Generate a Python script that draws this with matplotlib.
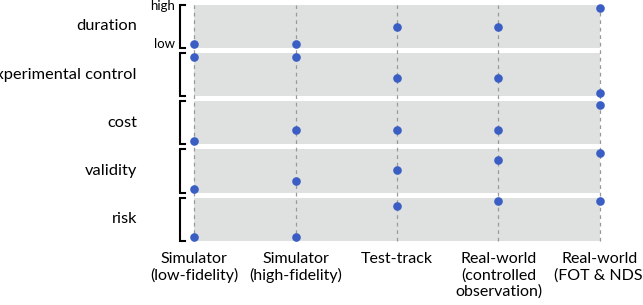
import matplotlib
matplotlib.use('Agg')
from matplotlib import pyplot as plt
from matplotlib.patches import Rectangle

# Data
criteria = ['duration', 'experimental control', 'cost', 'validity', 'risk']
settings_labels = ['Simulator\n(low-fidelity)', 'Simulator\n(high-fidelity)', 'Test-track',
                   'Real-world\n(controlled\nobservation)', 'Real-world\n(FOT & NDS)']
duration = [0, 0, 0.48, 0.48, 1]
experimental_control = [1, 1, 0.41, 0.41, 0]
cost = [0, 0.29, 0.29, 0.29, 1]
validity = [0, 0.22, 0.52, 0.8, 1]
risk = [0, 0, 0.88, 1, 1]
rows = [duration, experimental_control, cost, validity, risk]

plt.rcParams['font.family'] = ['Lato', 'DejaVu Sans']

fig = plt.figure(figsize=(6.43, 3.05), dpi=100)
ax = fig.add_axes([0, 0, 1, 1])
ax.set_xlim(-1.916, 4.425)
ax.set_ylim(-7.24, 1.23)
ax.axis('off')

period = 1.34
band_color = '#dfe1e1'
dot_color = '#3a5ec4'
xs = range(len(settings_labels))

for k, (name, vals) in enumerate(zip(criteria, rows)):
    base = -k * period
    ax.add_patch(Rectangle((0, base - 0.1), 4, 1.2, facecolor=band_color,
                           edgecolor='none', zorder=1))
    # bracket
    ax.plot([-0.092, -0.141, -0.141, -0.092],
            [base + 1.1, base + 1.1, base - 0.1, base - 0.1],
            color='black', lw=1.5, solid_joinstyle='miter', zorder=2)
    ax.text(-0.565, base + 0.5, name, ha='right', va='center', fontsize=11.8)

top = 1.1
bottom = -(len(criteria) - 1) * period - 0.1
for x in xs:
    ax.plot([x, x], [bottom, top], color='#999999', lw=0.9,
            linestyle=(0, (3, 3)), zorder=2)

for k, vals in enumerate(rows):
    base = -k * period
    ax.plot(list(xs), [base + v for v in vals], 'o', color=dot_color,
            markersize=6.2, markeredgewidth=0, zorder=3, clip_on=False)

ax.text(-0.19, 1.07, 'high', ha='right', va='center', fontsize=9.5)
ax.text(-0.19, 0.0, 'low', ha='right', va='center', fontsize=9.5)

for x, lab in zip(xs, settings_labels):
    ax.text(x, -5.76, lab, ha='center', va='top', fontsize=11.5,
            multialignment='center', linespacing=1.2)

plt.savefig('out.png', dpi=100)
